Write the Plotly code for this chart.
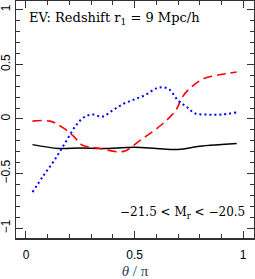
import plotly.graph_objects as go

black_x = [0.03, 0.15, 0.25, 0.35, 0.5, 0.6, 0.7, 0.8, 0.9, 0.97]
black_y = [-0.235, -0.27, -0.265, -0.27, -0.26, -0.27, -0.28, -0.25, -0.235, -0.225]

red_x = [0.03, 0.11, 0.17, 0.22, 0.26, 0.34, 0.42, 0.46, 0.49, 0.53, 0.62, 0.69, 0.72, 0.76, 0.82, 0.88, 0.97]
red_y = [-0.02, -0.02, -0.08, -0.16, -0.24, -0.27, -0.30, -0.29, -0.25, -0.19, -0.06, 0.08, 0.20, 0.29, 0.37, 0.40, 0.43]

blue_x = [0.03, 0.08, 0.13, 0.18, 0.23, 0.27, 0.31, 0.35, 0.40, 0.45, 0.50, 0.55, 0.60, 0.63, 0.66, 0.70, 0.74, 0.78, 0.84, 0.90, 0.97]
blue_y = [-0.67, -0.52, -0.38, -0.22, -0.06, 0.02, 0.04, 0.02, 0.08, 0.14, 0.18, 0.22, 0.28, 0.29, 0.27, 0.17, 0.11, 0.05, 0.04, 0.04, 0.06]

xticks = [0, 0.5, 1]
yticks = [-1, -0.5, 0, 0.5, 1]
ytick_text = ["\u22121", "\u22120.5", "0", "0.5", "1"]

fig = go.Figure()
fig.add_trace(go.Scatter(x=black_x, y=black_y, mode="lines", hoverinfo="skip", line=dict(color="black", width=1.5, shape="spline")))
fig.add_trace(go.Scatter(x=red_x, y=red_y, mode="lines", hoverinfo="skip", line=dict(color="red", width=1.6, dash="9px,5px", shape="spline")))
fig.add_trace(go.Scatter(x=blue_x, y=blue_y, mode="lines", hoverinfo="skip", line=dict(color="blue", width=2, dash="2px,3px", shape="spline")))

axis_common = dict(
    showgrid=False, zeroline=False, showline=True, linecolor="#333", linewidth=1.5,
    mirror="allticks", ticks="inside", ticklen=7, tickwidth=1, tickcolor="#333",
    tickfont=dict(family="Liberation Sans, Arial", size=12, color="black"),
    automargin=False,
)

fig.update_xaxes(range=[-0.046, 1.05], tickvals=xticks, ticktext=["0", "0.5", "1"],
                 ticklabelstandoff=5,
                 minor=dict(dtick=0.1, tick0=0, ticks="inside", ticklen=4, tickcolor="#333"),
                 title=dict(text="<i>θ</i> / π", font=dict(family="Liberation Serif, Times", size=15), standoff=4),
                 **axis_common)
fig.update_yaxes(range=[-1.09, 1.08], tickvals=yticks, ticktext=ytick_text, tickangle=-90,
                 minor=dict(dtick=0.1, tick0=0, ticks="inside", ticklen=4, tickcolor="#333"),
                 **axis_common)

fig.add_annotation(x=0.045, y=0.925, xref="paper", yref="paper", xanchor="left", yanchor="middle",
                   text="EV: Redshift r<sub>1</sub> = 9 Mpc/h", showarrow=False,
                   font=dict(family="DejaVu Serif, Liberation Serif", size=13, color="black"))
fig.add_annotation(x=0.97, y=0.105, xref="paper", yref="paper", xanchor="right", yanchor="middle",
                   text="\u221221.5 &lt; M<sub>r</sub> &lt; \u221220.5", showarrow=False,
                   font=dict(family="DejaVu Serif, Liberation Serif", size=12, color="black"))

fig.update_layout(width=255, height=279, margin=dict(l=16, r=1, t=1, b=41, autoexpand=False),
                  plot_bgcolor="white", paper_bgcolor="white", showlegend=False, hovermode=False)
fig.write_html("out.html", config={"displayModeBar": False, "staticPlot": True},
               post_script="document.body.style.margin='0';document.body.style.padding='0';document.body.style.overflow='hidden';")
